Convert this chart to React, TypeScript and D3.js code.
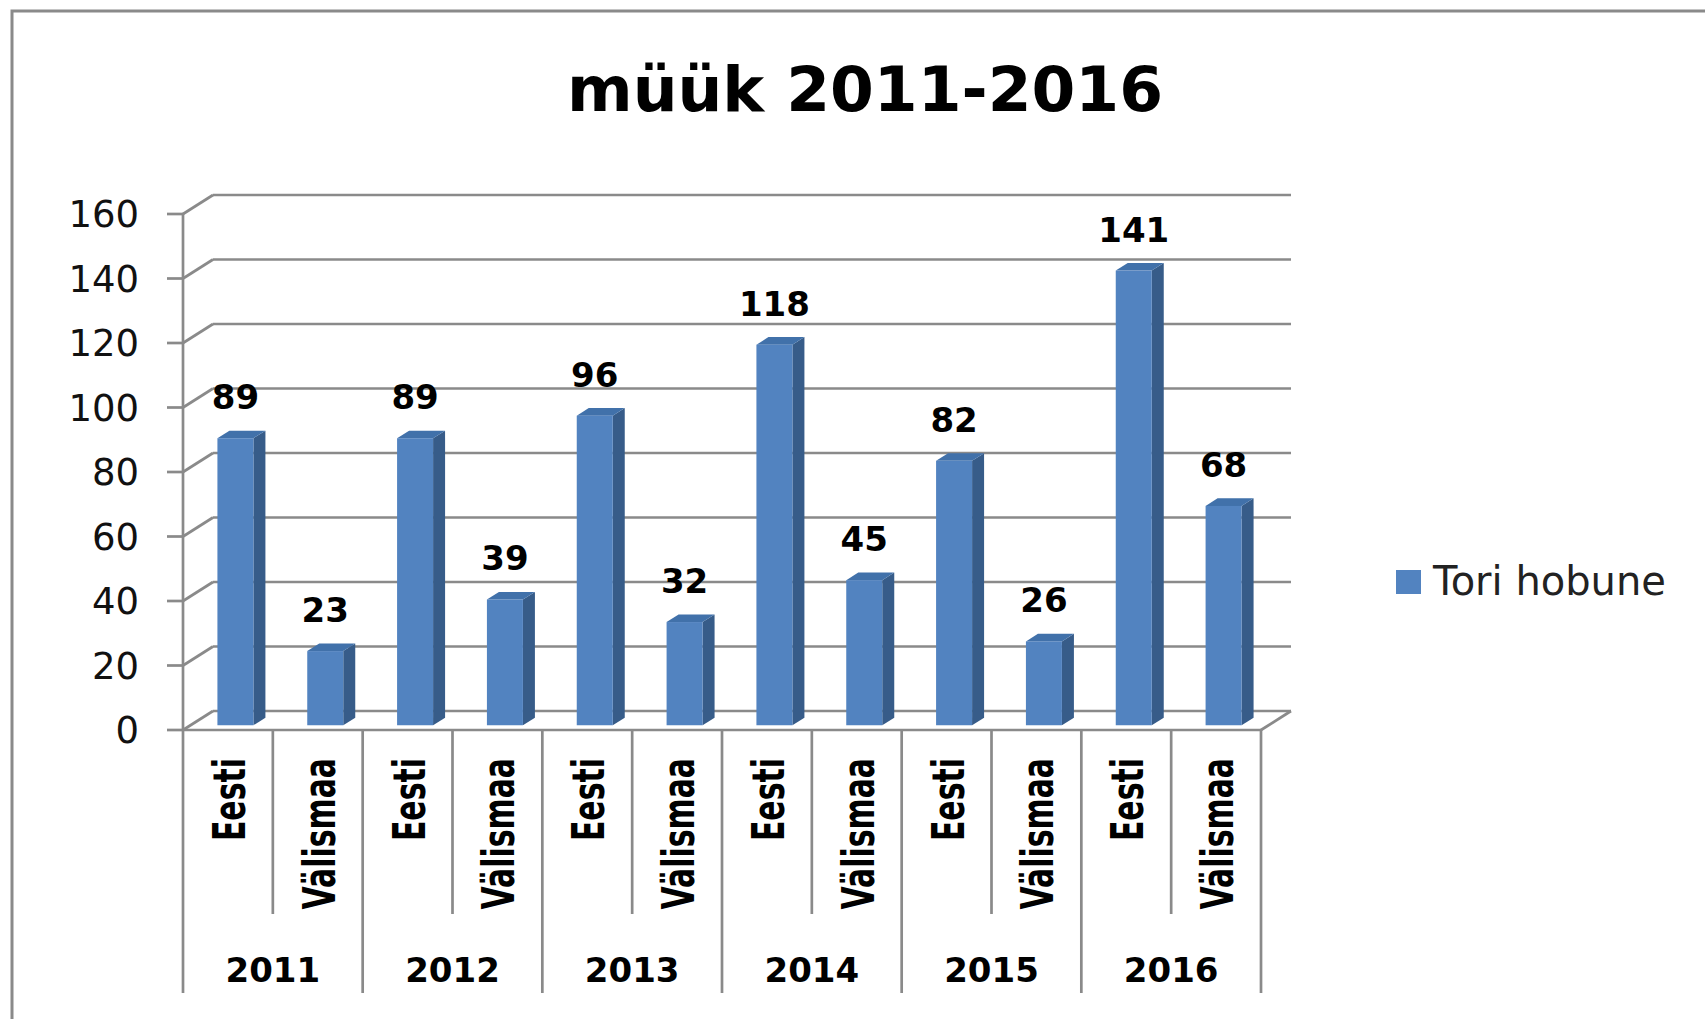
import React from "react";
import * as d3 from "d3";

const years = ["2011", "2012", "2013", "2014", "2015", "2016"];
const origins = ["Eesti", "Välismaa"];
const eestiValues = [89, 89, 96, 118, 82, 141];
const valismaaValues = [23, 39, 32, 45, 26, 68];
const yTicks = [0, 20, 40, 60, 80, 100, 120, 140, 160];
const title = "müük 2011-2016";
const seriesName = "Tori hobune";

type Cat = { key: string; year: string; origin: string; value: number; yi: number; oi: number };
const cats: Cat[] = [];
years.forEach((y, yi) => {
  origins.forEach((o, oi) => {
    cats.push({ key: `${y}-${o}`, year: y, origin: o, value: oi === 0 ? eestiValues[yi] : valismaaValues[yi], yi, oi });
  });
});

const W = 1705;
const H = 1019;
const X0 = 183;
const X1 = 1261;
const Y0 = 730;
const Y1 = 214;
const DX = 30;
const DY = -19;
const BAR_W = 36;
const BAR_F0 = 0.25;
const BAR_DEPTH = 0.4;
const GRID = "#8a8a8a";

export default function App() {
  const x = d3.scaleBand<string>().domain(cats.map((c) => c.key)).range([X0, X1]).padding(0);
  const y = d3.scaleLinear().domain([0, 160]).range([Y0, Y1]);
  const step = x.step();

  return (
    <svg width={W} height={H} style={{ position: "absolute", left: 0, top: 0, background: "#fff" }}>
      <rect x={12} y={11} width={W + 20} height={H + 20} fill="#fff" stroke="#8a8a8a" strokeWidth={3} />
      <text x={865} y={111} textAnchor="middle" fontFamily="DejaVu Sans" fontWeight="bold" fontSize={63} fill="#000">
        {title}
      </text>

      {/* grid: back wall + left wall diagonals */}
      {yTicks.map((t) => (
        <g key={t}>
          <line x1={X0 + DX} x2={X1 + DX} y1={y(t) + DY} y2={y(t) + DY} stroke={GRID} strokeWidth={2.7} />
          <line x1={X0} x2={X0 + DX} y1={y(t)} y2={y(t) + DY} stroke={GRID} strokeWidth={2.7} />
          <line x1={X0 - 16} x2={X0} y1={y(t)} y2={y(t)} stroke={GRID} strokeWidth={2.7} />
          <text x={139} y={y(t)} dy="0.36em" textAnchor="end" fontFamily="DejaVu Sans" fontSize={37} fill="#111">
            {t}
          </text>
        </g>
      ))}
      {/* floor right edge */}
      <line x1={X1} x2={X1 + DX} y1={y(0)} y2={y(0) + DY} stroke={GRID} strokeWidth={2.7} />
      {/* y axis */}
      <line x1={X0} x2={X0} y1={y(0)} y2={y(160)} stroke={GRID} strokeWidth={2.7} />

      {/* bars */}
      {cats.map((c) => {
        const bx = (x(c.key) as number) + (step - BAR_W) / 2 + BAR_F0 * DX;
        const by0 = y(0) + BAR_F0 * DY;
        const byt = y(c.value) + BAR_F0 * DY;
        const ddx = BAR_DEPTH * DX;
        const ddy = BAR_DEPTH * DY;
        return (
          <g key={c.key}>
            <polygon
              points={`${bx + BAR_W},${byt} ${bx + BAR_W + ddx},${byt + ddy} ${bx + BAR_W + ddx},${by0 + ddy} ${bx + BAR_W},${by0}`}
              fill="#375c89"
            />
            <polygon
              points={`${bx},${byt} ${bx + ddx},${byt + ddy} ${bx + BAR_W + ddx},${byt + ddy} ${bx + BAR_W},${byt}`}
              fill="#4171aa"
            />
            <rect x={bx} y={byt} width={BAR_W} height={by0 - byt} fill="#5283c0" />
            <text
              x={bx + BAR_W / 2}
              y={byt - 29}
              textAnchor="middle"
              fontFamily="DejaVu Sans"
              fontWeight="bold"
              fontSize={34}
              fill="#000"
            >
              {c.value}
            </text>
          </g>
        );
      })}

      {/* front floor edge */}
      <line x1={X0} x2={X1} y1={y(0)} y2={y(0)} stroke={GRID} strokeWidth={2.7} />

      {/* category separators */}
      {cats.map((c, i) => {
        const sx = x(c.key) as number;
        const long = c.oi === 0;
        return <line key={"s" + i} x1={sx} x2={sx} y1={y(0)} y2={long ? 993 : 914} stroke={GRID} strokeWidth={2.7} />;
      })}
      <line x1={X1} x2={X1} y1={y(0)} y2={993} stroke={GRID} strokeWidth={2.7} />

      {/* origin labels rotated */}
      {cats.map((c) => {
        const cx = (x(c.key) as number) + step / 2;
        return (
          <text
            key={"l" + c.key}
            transform={`translate(${cx + 17},758) rotate(-90) scale(0.68,1)`}
            textAnchor="end"
            fontFamily="DejaVu Sans"
            fontWeight="bold"
            fontSize={44}
            fill="#000"
          >
            {c.origin}
          </text>
        );
      })}

      {/* year labels */}
      {years.map((yr) => {
        const sx = x(`${yr}-${origins[0]}`) as number;
        return (
          <text key={yr} x={sx + step} y={982} textAnchor="middle" fontFamily="DejaVu Sans" fontWeight="bold" fontSize={34} fill="#000">
            {yr}
          </text>
        );
      })}

      {/* legend */}
      <rect x={1396} y={570} width={25} height={24} fill="#5283c0" />
      <text x={1433} y={595} fontFamily="DejaVu Sans" fontSize={40} fill="#222">
        {seriesName}
      </text>
    </svg>
  );
}
